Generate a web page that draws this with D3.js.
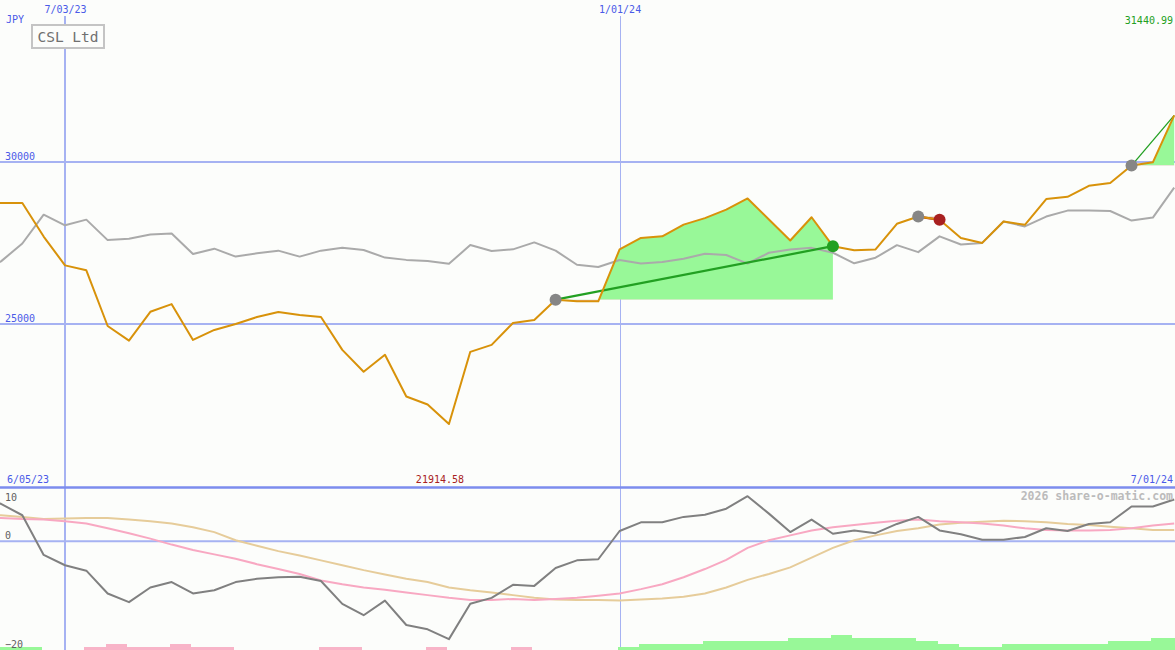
<!DOCTYPE html>
<html><head><meta charset="utf-8">
<script src="https://cdn.jsdelivr.net/npm/d3@7"></script>
<style>
html,body{margin:0;padding:0;background:#fcfdfb;}
svg{display:block;}
text{font-family:"DejaVu Sans Mono","Liberation Mono",monospace;}
</style></head><body>
<svg id="chart" width="1175" height="650"></svg>
<script>
// ---------- DATA ----------
const dates = [
 "2023-06-05","2023-06-12","2023-06-19","2023-06-26","2023-07-03","2023-07-10","2023-07-17","2023-07-24","2023-07-31",
 "2023-08-07","2023-08-14","2023-08-21","2023-08-28","2023-09-04","2023-09-11","2023-09-18","2023-09-25",
 "2023-10-02","2023-10-09","2023-10-16","2023-10-23","2023-10-30","2023-11-06","2023-11-13","2023-11-20","2023-11-27",
 "2023-12-04","2023-12-11","2023-12-18","2023-12-25","2024-01-01","2024-01-08","2024-01-15","2024-01-22","2024-01-29",
 "2024-02-05","2024-02-12","2024-02-19","2024-02-26","2024-03-04","2024-03-11","2024-03-18","2024-03-25",
 "2024-04-01","2024-04-08","2024-04-15","2024-04-22","2024-04-29","2024-05-06","2024-05-13","2024-05-20","2024-05-27",
 "2024-06-03","2024-06-10","2024-06-17","2024-06-24","2024-07-01"];

const closePrice = [
 28733,28733,28733,27699,26810,26656,24938,24488,25377,25613,24509,24816,25000,25215,25368,25276,25215,
 24202,23527,24049,22761,22515,21914.58,24141,24356,25031,25123,25750,25700,25700,
 27301,27656,27705,28067,28267,28528,28874,28224,27577,28294,27402,27279,27301,
 28092,28316,28215,27656,27503,28163,28061,28856,28926,29264,29353,29890,29991,31440.99];

const benchmark = [
 26656,26933,27485,28374,28046,28221,27589,27629,27761,27791,27163,27325,27080,27184,27264,27080,27264,
 27356,27285,27049,26979,26948,26859,27436,27255,27304,27518,27264,26828,26761,
 26975,26865,26914,27015,27169,27129,26865,27199,27301,27350,27199,26874,27046,
 27433,27218,27706,27454,27503,28163,28012,28316,28500,28500,28488,28193,28285,29209];

const momentum = [
 7.8,6.9,4.8,-2.5,-4.4,-5.4,-9.6,-11.2,-8.5,-7.5,-9.6,-9.0,-7.5,-6.9,-6.6,-6.5,-7.3,
 -11.5,-13.6,-10.9,-15.4,-16.2,-18.0,-11.5,-10.4,-8.0,-8.2,-4.9,-3.5,-3.3,
 1.9,3.5,3.5,4.5,4.9,6.0,8.3,5.1,1.7,4.0,1.4,2.0,1.5,
 3.2,4.5,2.0,1.3,0.3,0.3,0.8,2.4,1.9,3.2,3.5,6.4,6.4,7.7];

const momentumFast = [
 4.4,4.3,4.1,4.0,3.7,3.3,2.4,1.5,0.5,-0.6,-1.6,-2.4,-3.2,-4.2,-5.1,-6.0,-7.2,
 -7.9,-8.5,-8.9,-9.4,-9.9,-10.4,-10.8,-10.8,-10.6,-10.8,-10.6,-10.4,-10.0,
 -9.6,-8.8,-7.9,-6.6,-5.1,-3.4,-1.2,0.2,1.1,2.0,2.6,3.0,3.4,
 3.8,4.0,3.7,3.5,3.3,2.9,2.4,2.1,2.0,2.0,2.1,2.4,2.9,3.3];

const momentumSlow = [
 4.9,4.8,4.5,4.1,4.2,4.3,4.3,4.0,3.7,3.3,2.6,1.7,0.2,-0.8,-1.8,-2.6,-3.5,
 -4.4,-5.3,-6.1,-6.9,-7.5,-8.5,-9.0,-9.4,-9.9,-10.4,-10.7,-10.8,-10.8,
 -10.9,-10.7,-10.5,-10.2,-9.6,-8.5,-7.1,-6.0,-4.8,-3.0,-1.2,0.2,1.1,
 1.9,2.4,3.1,3.4,3.6,3.8,3.7,3.5,3.2,3.0,2.7,2.4,2.1,2.1];

const signalBars = [
 1,1,1,0,0,-1,-2,-1,-1,-2,-1,-1,0,0,0,0,-1,
 -1,0,0,0,-1,0,0,0,-1,0,0,0,0,
 1,2,2,2,3,3,3,3,4,4,5,4,4,
 4,3,2,1,1,2,2,2,2,2,3,3,4,4];

const tradeBuyIdx  = [27, 44, 54];
const tradeSellIdx = [40, 45, 56];
const tradeOpen    = [false, false, true];

const dateTicks  = ["2023-07-03", "2024-01-01"];
const priceTicks = [25000, 30000];
const oscTicks   = [10, 0, -20];
const companyName = "CSL Ltd";
const currency = "JPY";
const watermark = "2026 share-o-matic.com";

// ---------- CHART ----------
const W = 1175, H = 650;
const parse = d3.timeParse("%Y-%m-%d");
const fmtDate = d3.timeFormat("%-m/%d/%y");
const dts = dates.map(parse);
const svg = d3.select("#chart");

const x = d3.scaleTime().domain([parse("2023-07-03"), parse("2024-01-01")]).range([65, 619.6]);
const y = d3.scaleLinear().domain([25000, 30000]).range([324, 162]);
const yo = d3.scaleLinear().domain([-20, 10]).range([650, 487]);
const hb = d3.scaleLinear().domain([0, 1]).range([0, 3]);

const BLUE_TXT = "#4a5ae8", GRID = "#a6b2f2", GRID_DARK = "#7d8cee";

svg.append("rect").attr("width", W).attr("height", H).attr("fill", "#fcfdfb");

const defs = svg.append("defs");
defs.append("clipPath").attr("id", "clipTop").append("rect").attr("x", 0).attr("y", 0).attr("width", W).attr("height", 486);
defs.append("clipPath").attr("id", "clipBot").append("rect").attr("x", 0).attr("y", 488).attr("width", W).attr("height", H - 488);

// grid lines
const grid = svg.append("g");
grid.selectAll("line.h").data(priceTicks).join("line")
  .attr("x1", 0).attr("x2", W).attr("y1", d => y(d)).attr("y2", d => y(d))
  .attr("stroke", GRID).attr("stroke-width", 2);
grid.selectAll("line.v").data(dateTicks).join("line")
  .attr("x1", (d, i) => Math.round(x(parse(d))) + (i === 0 ? 0 : 0.5))
  .attr("x2", (d, i) => Math.round(x(parse(d))) + (i === 0 ? 0 : 0.5))
  .attr("y1", 16).attr("y2", H)
  .attr("stroke", GRID).attr("stroke-width", (d, i) => i === 0 ? 2 : 1);
grid.append("line").attr("x1", 0).attr("x2", W).attr("y1", yo(0)).attr("y2", yo(0))
  .attr("stroke", GRID).attr("stroke-width", 2);
grid.append("line").attr("x1", 0).attr("x2", W).attr("y1", 487.5).attr("y2", 487.5)
  .attr("stroke", GRID_DARK).attr("stroke-width", 2.5);

// top panel
const topG = svg.append("g").attr("clip-path", "url(#clipTop)");

// trade fills
tradeBuyIdx.forEach((s, t) => {
  const e = tradeSellIdx[t];
  const base = closePrice[s];
  const idx = d3.range(s, e + 1);
  const area = d3.area().x(i => x(dts[i])).y0(y(base)).y1(i => y(closePrice[i]));
  const ca = "tcA" + t, cb = "tcB" + t;
  defs.append("clipPath").attr("id", ca).append("rect").attr("x", 0).attr("y", 0).attr("width", W).attr("height", y(base));
  defs.append("clipPath").attr("id", cb).append("rect").attr("x", 0).attr("y", y(base)).attr("width", W).attr("height", H);
  topG.append("g").attr("clip-path", `url(#${ca})`).append("path").datum(idx).attr("d", area).attr("fill", "#98f898");
  topG.append("g").attr("clip-path", `url(#${cb})`).append("path").datum(idx).attr("d", area).attr("fill", "#f8b4c8");
});

// benchmark line
const lineTop = d3.line().x((d, i) => x(dts[i])).y(d => y(d));
topG.append("path").datum(benchmark).attr("d", lineTop).attr("fill", "none")
  .attr("stroke", "#aaaaaa").attr("stroke-width", 2).attr("stroke-linejoin", "round");

// trade lines
tradeBuyIdx.forEach((s, t) => {
  const e = tradeSellIdx[t];
  const win = closePrice[e] >= closePrice[s];
  topG.append("line")
    .attr("x1", x(dts[s])).attr("y1", y(closePrice[s]))
    .attr("x2", x(dts[e])).attr("y2", y(closePrice[e]))
    .attr("stroke", win ? "#22a022" : "#b02020")
    .attr("stroke-width", tradeOpen[t] ? 1.3 : 2.2);
});

// price line
topG.append("path").datum(closePrice).attr("d", lineTop).attr("fill", "none")
  .attr("stroke", "#d8920a").attr("stroke-width", 2).attr("stroke-linejoin", "round");

// trade markers
tradeBuyIdx.forEach((s, t) => {
  const e = tradeSellIdx[t];
  topG.append("circle").attr("cx", x(dts[s])).attr("cy", y(closePrice[s])).attr("r", 6).attr("fill", "#868686");
  if (!tradeOpen[t]) {
    const win = closePrice[e] >= closePrice[s];
    topG.append("circle").attr("cx", x(dts[e])).attr("cy", y(closePrice[e])).attr("r", 6)
      .attr("fill", win ? "#22a022" : "#a82020");
  }
});

// bottom panel
const botG = svg.append("g").attr("clip-path", "url(#clipBot)");
botG.selectAll("rect.bar").data(signalBars).join("rect")
  .attr("x", (d, i) => x(dts[i]) - 2)
  .attr("width", (d, i) => (i < dts.length - 1 ? x(dts[i + 1]) : x(dts[i]) + 21.4) - x(dts[i]))
  .attr("y", d => H - hb(Math.abs(d)))
  .attr("height", d => hb(Math.abs(d)))
  .attr("fill", d => d >= 0 ? "#98f898" : "#f8b4c8")
  .attr("shape-rendering", "crispEdges");

const lineBot = d3.line().x((d, i) => x(dts[i])).y(d => yo(d));
botG.append("path").datum(momentumSlow).attr("d", lineBot).attr("fill", "none").attr("stroke", "#e6cc9a").attr("stroke-width", 2);
botG.append("path").datum(momentumFast).attr("d", lineBot).attr("fill", "none").attr("stroke", "#f8a8c2").attr("stroke-width", 2);
botG.append("path").datum(momentum).attr("d", lineBot).attr("fill", "none").attr("stroke", "#808080").attr("stroke-width", 2).attr("stroke-linejoin", "round");

// ---------- AXES / LABELS ----------
const ax = svg.append("g").attr("transform", "translate(0,13)")
  .call(d3.axisTop(x).tickValues(dateTicks.map(parse)).tickFormat(fmtDate).tickSize(0).tickPadding(0));
ax.select(".domain").remove();
ax.selectAll("text").attr("fill", BLUE_TXT).attr("font-size", 10).attr("font-family", "DejaVu Sans Mono");

const ay = svg.append("g").attr("transform", "translate(5,0)")
  .call(d3.axisRight(y).tickValues(priceTicks).tickFormat(d3.format("d")).tickSize(0).tickPadding(0));
ay.select(".domain").remove();
ay.selectAll("text").attr("fill", BLUE_TXT).attr("font-size", 10).attr("dy", -3).attr("font-family", "DejaVu Sans Mono");

const ao = svg.append("g").attr("transform", "translate(5,0)")
  .call(d3.axisRight(yo).tickValues(oscTicks).tickFormat(d3.format("d")).tickSize(0).tickPadding(0));
ao.select(".domain").remove();
ao.selectAll("text").attr("fill", "#606060").attr("font-size", 10).attr("font-family", "DejaVu Sans Mono")
  .attr("dy", d => d === yo.domain()[1] ? 13 : -3);

svg.append("text").attr("x", 6).attr("y", 23).attr("fill", BLUE_TXT).attr("font-size", 10).text(currency);

svg.append("rect").attr("x", 32).attr("y", 25).attr("width", 72).attr("height", 23)
  .attr("fill", "#fcfdfb").attr("stroke", "#c4c4c4").attr("stroke-width", 2);
svg.append("text").attr("x", 68).attr("y", 42).attr("text-anchor", "middle").attr("fill", "#707070")
  .attr("font-size", 14.5).text(companyName);

const maxV = d3.max(closePrice), minV = d3.min(closePrice);
const minI = closePrice.indexOf(minV);
svg.append("text").attr("x", W - 2).attr("y", 24).attr("text-anchor", "end").attr("fill", "#22a022")
  .attr("font-size", 10).text(d3.format(".2f")(maxV));

svg.append("text").attr("x", 7).attr("y", 483).attr("fill", BLUE_TXT).attr("font-size", 10).text(fmtDate(dts[0]));
svg.append("text").attr("x", W - 2).attr("y", 483).attr("text-anchor", "end").attr("fill", BLUE_TXT)
  .attr("font-size", 10).text(fmtDate(dts[dts.length - 1]));
svg.append("text").attr("x", x(dts[minI]) - 9).attr("y", 483).attr("text-anchor", "middle").attr("fill", "#a82020")
  .attr("font-size", 10).text(d3.format(".2f")(minV));

svg.append("text").attr("x", W - 2).attr("y", 500).attr("text-anchor", "end").attr("fill", "#bbbbbb")
  .attr("font-size", 11.5).attr("font-weight", "bold").text(watermark);
</script>
</body></html>
